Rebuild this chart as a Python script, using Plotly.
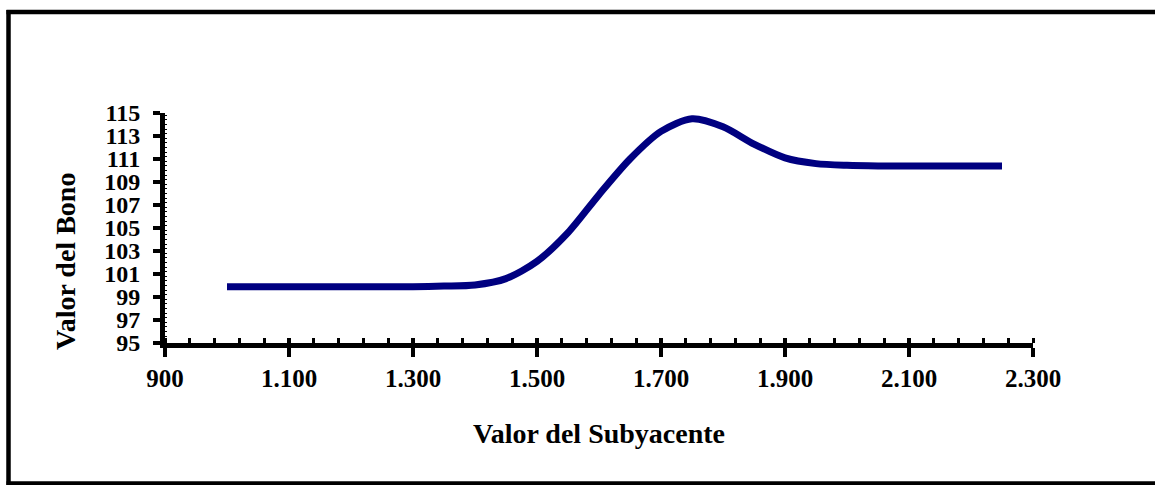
import plotly.graph_objects as go

# Data
subyacente = [1000, 1050, 1100, 1150, 1200, 1250, 1300, 1350, 1400, 1450, 1500, 1550,
              1600, 1650, 1700, 1750, 1800, 1850, 1900, 1950, 2000, 2050, 2100, 2150,
              2200, 2250]
valor_bono = [99.9, 99.9, 99.9, 99.9, 99.9, 99.9, 99.9, 99.95, 100.05, 100.6, 102.1, 104.6,
              107.9, 111.0, 113.4, 114.5, 113.8, 112.3, 111.1, 110.6, 110.45, 110.4, 110.4, 110.4,
              110.4, 110.4]

x_ticks = [900, 1100, 1300, 1500, 1700, 1900, 2100, 2300]
x_ticktext = ["900", "1.100", "1.300", "1.500", "1.700", "1.900", "2.100", "2.300"]
y_ticks = [95, 97, 99, 101, 103, 105, 107, 109, 111, 113, 115]

W, H = 1155, 485
L, R, T, B = 165, 1033, 113, 343

def px(xp):
    return (xp - L) / (R - L)

def py(yp):
    return (B - yp) / (B - T)

FONT = "Liberation Serif"

fig = go.Figure()
fig.add_trace(go.Scatter(
    x=subyacente, y=valor_bono, mode="lines",
    line=dict(color="#000080", width=7, shape="spline", smoothing=0.8),
    showlegend=False, hoverinfo="skip",
))
# helper trace so the overlaying axis (crossing major ticks) is drawn
fig.add_trace(go.Scatter(
    x=subyacente, y=valor_bono, mode="lines", xaxis="x2",
    line=dict(width=0, color="rgba(0,0,0,0)"), showlegend=False, hoverinfo="skip",
))

frame = dict(color="black", width=4.5)
fig.update_layout(
    width=W, height=H,
    margin=dict(l=L, r=W - R, t=T, b=H - B),
    paper_bgcolor="white", plot_bgcolor="white",
    showlegend=False,
    font=dict(family=FONT, color="black"),
    xaxis=dict(
        range=[900, 2300], tickvals=x_ticks, ticktext=x_ticktext,
        showgrid=False, zeroline=False,
        showline=True, linecolor="black", linewidth=4.5,
        ticks="outside", ticklen=9, tickwidth=4, tickcolor="black",
        minor=dict(tick0=900, dtick=40, ticks="inside", ticklen=5, tickwidth=3, tickcolor="black", showgrid=False),
        tickfont=dict(family=FONT, size=25, weight="bold", color="black"),
        ticklabelstandoff=0,
    ),
    xaxis2=dict(
        range=[900, 2300], overlaying="x", anchor="y", side="bottom",
        tickvals=x_ticks, showticklabels=False, showgrid=False, zeroline=False, showline=False,
        ticks="inside", ticklen=5, tickwidth=4, tickcolor="black",
    ),
    yaxis=dict(
        range=[95, 115], tickvals=y_ticks,
        showgrid=False, zeroline=False,
        showline=True, linecolor="black", linewidth=5,
        ticks="outside", ticklen=7, tickwidth=4, tickcolor="black",
        minor=dict(dtick=0.4, ticks="inside", ticklen=2, tickwidth=1, tickcolor="black", showgrid=False),
        tickfont=dict(family=FONT, size=24, weight="bold", color="black"),
        ticklabelstandoff=8,
    ),
    annotations=[
        dict(text="Valor del Subyacente", xref="paper", yref="paper",
             x=0.5, y=py(433), xanchor="center", yanchor="middle", showarrow=False,
             font=dict(family=FONT, size=28, weight="bold", color="black")),
        dict(text="Valor del Bono", xref="paper", yref="paper", textangle=-90,
             x=px(65), y=py(262), xanchor="center", yanchor="middle", showarrow=False,
             font=dict(family=FONT, size=28, weight="bold", color="black")),
    ],
    shapes=[
        dict(type="line", xref="paper", yref="paper", x0=px(6.5), x1=px(1200),
             y0=py(12), y1=py(12), line=frame, layer="above"),
        dict(type="line", xref="paper", yref="paper", x0=px(8.5), x1=px(8.5),
             y0=py(10), y1=py(490), line=frame, layer="above"),
        dict(type="line", xref="paper", yref="paper", x0=px(6.5), x1=px(1200),
             y0=py(483.5), y1=py(483.5), line=frame, layer="above"),
    ],
)

fig.write_html(
    "out.html",
    config={"displayModeBar": False},
    post_script=("document.documentElement.style.overflow='hidden';"
                 "document.body.style.overflow='hidden';document.body.style.margin='0';"),
)
